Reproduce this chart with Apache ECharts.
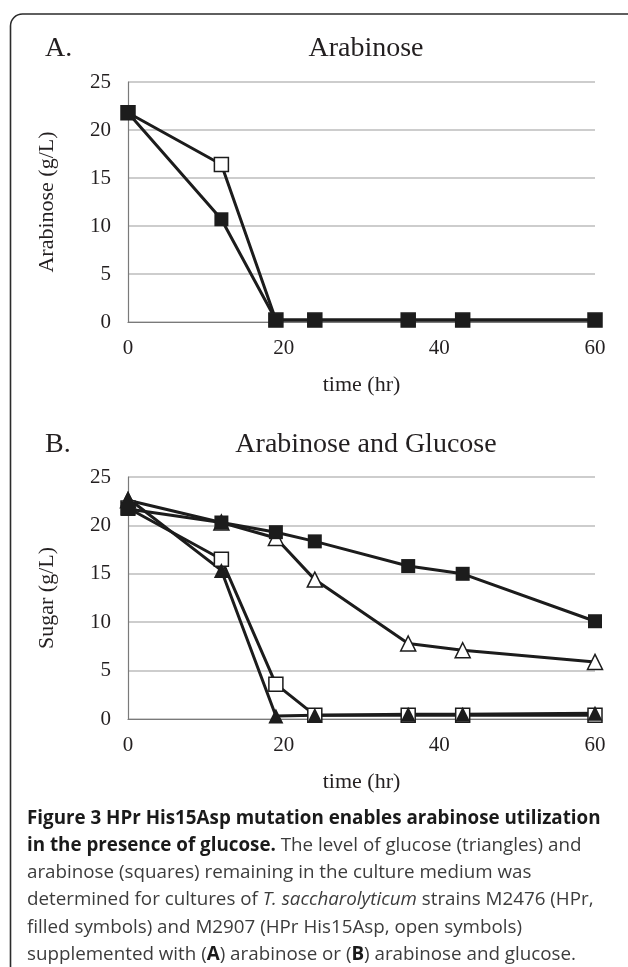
<!DOCTYPE html>
<html>
<head>
<meta charset="utf-8">
<script src="https://cdn.jsdelivr.net/npm/echarts@6/dist/echarts.min.js"></script>
<style>
  html, body { margin: 0; padding: 0; background: #fff; }
  #chart { width: 628px; height: 967px; }
</style>
</head>
<body>
<div id="chart"></div>
<script>
// sampling times (hr), same for every strain
var times = [0, 12, 19, 24, 36, 43, 60]
var xTicks = [0, 20, 40, 60]
var yTicks = [0, 5, 10, 15, 20, 25]

// panel A: arabinose only
var araFilledA = [21.8, 10.7, 0.2, 0.2, 0.2, 0.2, 0.2]   // M2476 (HPr)
var araOpenA = [21.8, 16.4, 0.2, 0.2, 0.2, 0.2, 0.2]     // M2907 (HPr His15Asp)

// panel B: arabinose + glucose
var araFilledB = [21.7, 20.3, 19.3, 18.35, 15.8, 15.0, 10.1]
var gluOpenB = [22.6, 20.3, 18.7, 14.4, 7.8, 7.1, 5.9]
var araOpenB = [21.8, 16.5, 3.6, 0.4, 0.4, 0.4, 0.4]
var gluFilledB = [22.8, 15.35, 0.3, 0.4, 0.5, 0.5, 0.6]

var serif = "'Liberation Serif', 'DejaVu Serif', serif"
var sans = "'Open Sans', 'Noto Sans', sans-serif"
var ink = '#231f20'

function pairs(vals) {
    let out = []
    for (let i in times) {
        out.push([times[i], vals[i]])
    }
    return out
}

function makeSeries(name, vals, idx, symbol, filled) {
    return {
        name: name,
        type: 'line',
        xAxisIndex: idx,
        yAxisIndex: idx,
        data: pairs(vals),
        symbol: symbol,
        symbolSize: symbol == 'triangle' ? 15 : 14,
        showAllSymbol: true,
        lineStyle: { color: '#1c1c1c', width: 3 },
        itemStyle: {
            color: filled ? '#1c1c1c' : '#ffffff',
            borderColor: '#1c1c1c',
            borderWidth: filled ? 0 : 1.5
        },
        animation: false
    }
}

function xAxisFor(idx) {
    return {
        gridIndex: idx,
        type: 'value',
        min: 0, max: 60, interval: 20,
        name: 'time (hr)',
        nameLocation: 'middle',
        nameGap: 52,
        nameTextStyle: { fontFamily: serif, fontSize: 22, color: ink },
        axisLine: { show: true, lineStyle: { color: '#7a7a7a', width: 1.2 } },
        axisTick: { show: false },
        splitLine: { show: false },
        axisLabel: { fontFamily: serif, fontSize: 21, color: ink, margin: 16 }
    }
}

function yAxisFor(idx, name) {
    return {
        gridIndex: idx,
        type: 'value',
        min: 0, max: 25, interval: 5,
        name: name,
        nameLocation: 'middle',
        nameGap: 70,
        nameTextStyle: { fontFamily: serif, fontSize: 22, color: ink },
        axisLine: { show: true, lineStyle: { color: '#7a7a7a', width: 1.2 } },
        axisTick: { show: false },
        splitLine: { show: true, lineStyle: { color: '#bdbdbd', width: 1.5 } },
        axisLabel: { fontFamily: serif, fontSize: 21, color: ink, margin: 17 }
    }
}

// caption lines, each built from rich text pieces
var captionLines = [
    '{b|Figure 3 HPr His15Asp mutation enables arabinose utilization}',
    '{b|in the presence of glucose.}{r| The level of glucose (triangles) and}',
    '{r|arabinose (squares) remaining in the culture medium was}',
    '{r|determined for cultures of }{i|T. saccharolyticum}{r| strains M2476 (HPr,}',
    '{r|filled symbols) and M2907 (HPr His15Asp, open symbols)}',
    '{r|supplemented with (}{b|A}{r|) arabinose or (}{b|B}{r|) arabinose and glucose.}'
]
var capSize = 18.8
var captionRich = {
    b: { fontFamily: sans, fontSize: capSize, fontWeight: 'bold', fill: '#1a1a1a' },
    r: { fontFamily: sans, fontSize: capSize, fill: '#3c3c3c' },
    i: { fontFamily: sans, fontSize: capSize, fontStyle: 'italic', fill: '#3c3c3c' }
}

var graphics = [
    {
        type: 'rect',
        shape: { x: 10.5, y: 14, width: 660, height: 1000, r: 12 },
        style: { fill: 'none', stroke: '#2b2b2b', lineWidth: 1.6 },
        silent: true
    }
]
for (let i in captionLines) {
    graphics.push({
        type: 'text',
        left: 27,
        top: 809 + i * 27.2,
        style: { text: captionLines[i], rich: captionRich }
    })
}

var chart = echarts.init(document.getElementById('chart'), null, { renderer: 'canvas' })
chart.setOption({
    backgroundColor: '#ffffff',
    title: [
        { text: 'A.', left: 40, top: 30, textStyle: { fontFamily: serif, fontSize: 28, fontWeight: 'normal', color: ink } },
        { text: 'Arabinose', left: 361, top: 30, textAlign: 'center', textStyle: { fontFamily: serif, fontSize: 28, fontWeight: 'normal', color: ink } },
        { text: 'B.', left: 40, top: 426, textStyle: { fontFamily: serif, fontSize: 28, fontWeight: 'normal', color: ink } },
        { text: 'Arabinose and Glucose', left: 361, top: 426, textAlign: 'center', textStyle: { fontFamily: serif, fontSize: 28, fontWeight: 'normal', color: ink } }
    ],
    grid: [
        { left: 128, right: 33, top: 82, height: 240 },
        { left: 128, right: 33, top: 477, height: 242 }
    ],
    xAxis: [xAxisFor(0), xAxisFor(1)],
    yAxis: [yAxisFor(0, 'Arabinose (g/L)'), yAxisFor(1, 'Sugar (g/L)')],
    series: [
        makeSeries('M2907 arabinose', araOpenA, 0, 'rect', false),
        makeSeries('M2476 arabinose', araFilledA, 0, 'rect', true),
        // draw order in B: open squares, open triangles, filled squares, filled triangles
        makeSeries('M2907 arabinose', araOpenB, 1, 'rect', false),
        makeSeries('M2907 glucose', gluOpenB, 1, 'triangle', false),
        makeSeries('M2476 arabinose', araFilledB, 1, 'rect', true),
        makeSeries('M2476 glucose', gluFilledB, 1, 'triangle', true)
    ],
    graphic: graphics
})
</script>
</body>
</html>
